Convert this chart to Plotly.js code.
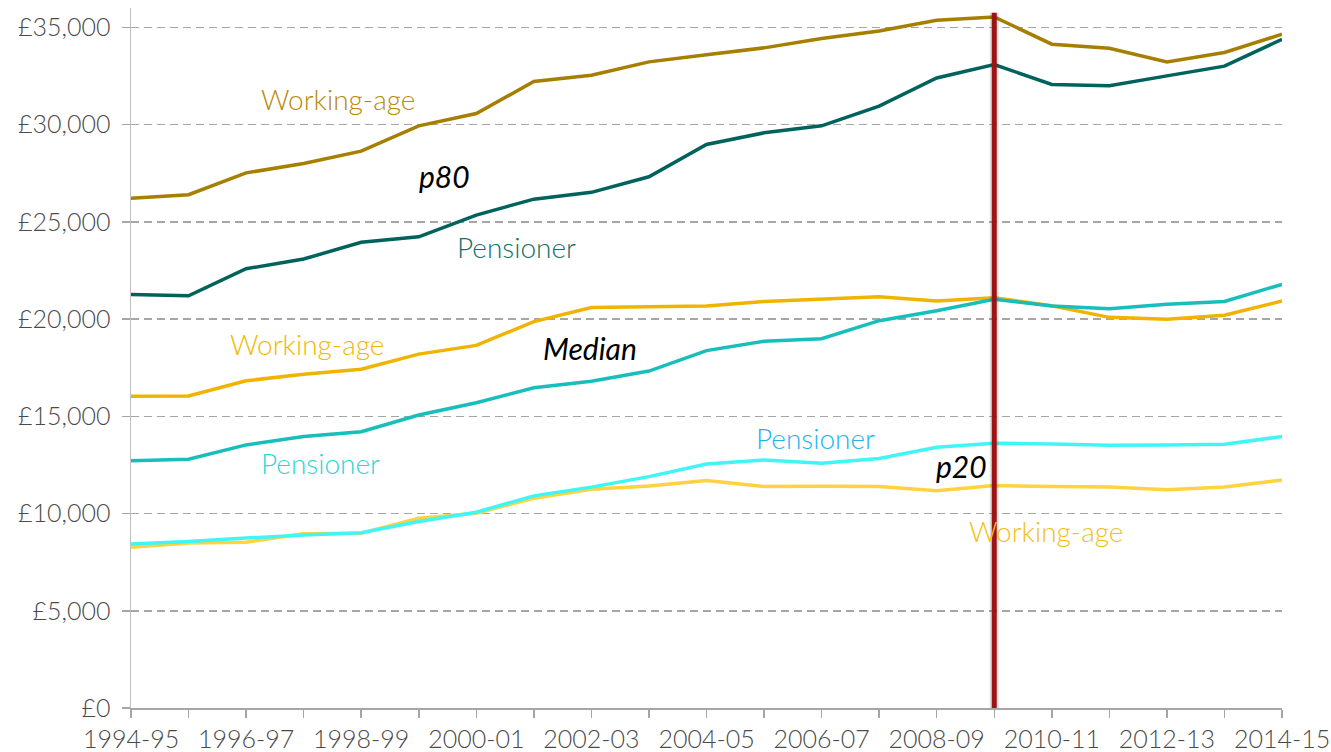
<!DOCTYPE html>
<html>
<head>
<meta charset="utf-8">
<script src="https://cdn.plot.ly/plotly-3.0.1.min.js"></script>
<style>
  html, body { margin: 0; padding: 0; background: #ffffff; }
  #chart { width: 1331px; height: 752px; }
</style>
</head>
<body>
<div id="chart"></div>
<script>
const years = ['1994-95','1995-96','1996-97','1997-98','1998-99','1999-00','2000-01','2001-02','2002-03','2003-04',
  '2004-05','2005-06','2006-07','2007-08','2008-09','2009-10','2010-11','2011-12','2012-13','2013-14','2014-15'];

const workingP80 = [26220, 26400, 27520, 28000, 28640, 29940, 30570, 32220, 32540, 33230,
  33600, 33950, 34430, 34820, 35370, 35540, 34140, 33930, 33230, 33710, 34650];
const pensionerP80 = [21270, 21200, 22590, 23090, 23950, 24230, 25350, 26170, 26520, 27320,
  28980, 29580, 29940, 30950, 32400, 33090, 32070, 32000, 32510, 33010, 34390];
const workingMedian = [16030, 16050, 16830, 17160, 17420, 18200, 18650, 19870, 20600, 20620,
  20670, 20910, 21050, 21150, 20930, 21100, 20690, 20090, 19990, 20200, 20930];
const pensionerMedian = [12710, 12790, 13530, 13960, 14210, 15070, 15700, 16470, 16800, 17330,
  18380, 18860, 18990, 19920, 20430, 21020, 20670, 20530, 20760, 20910, 21790];
const workingP20 = [8270, 8480, 8530, 8960, 8990, 9760, 10020, 10790, 11250, 11420,
  11700, 11390, 11410, 11390, 11170, 11440, 11390, 11360, 11230, 11360, 11730];
const pensionerP20 = [8440, 8560, 8740, 8900, 9010, 9590, 10070, 10910, 11360, 11900,
  12550, 12760, 12590, 12830, 13410, 13620, 13580, 13510, 13530, 13570, 13960];

const tickLabels = years.map((y, i) => (i % 2 === 0 ? y : ''));
const markerYear = '2009-10';
const yTicks = [0, 5000, 10000, 15000, 20000, 25000, 30000, 35000];
const yTickText = ['£0', '£5,000', '£10,000', '£15,000', '£20,000', '£25,000', '£30,000', '£35,000'];

const FONT = 'Lato, "Open Sans", sans-serif';

function line(y, color, name) {
  return { x: years, y: y, type: 'scatter', mode: 'lines', name: name,
    line: { color: color, width: 3.5 }, hoverinfo: 'skip' };
}

const data = [
  line(workingP20, '#FFD23F', 'Working-age p20'),
  line(pensionerP20, '#40F5F5', 'Pensioner p20'),
  line(workingMedian, '#F0B400', 'Working-age median'),
  line(pensionerMedian, '#17BEBB', 'Pensioner median'),
  line(pensionerP80, '#00625C', 'Pensioner p80'),
  line(workingP80, '#A67F00', 'Working-age p80')
];

function ann(text, x, y, color, italic) {
  return { text: text, x: x, y: y, xref: 'x', yref: 'y', showarrow: false,
    font: { family: FONT, size: italic ? 30 : 28, color: color, weight: italic ? 400 : 300,
            style: italic ? 'italic' : 'normal' } };
}

const annotations = [
  ann('Working-age', 3.6, 31300, '#B8890A', false),
  ann('p80', 5.45, 27350, '#000000', true),
  ann('Pensioner', 6.7, 23700, '#137069', false),
  ann('Working-age', 3.06, 18720, '#F2B800', false),
  ann('Median', 7.98, 18500, '#000000', true),
  ann('Pensioner', 3.29, 12600, '#2ED6D6', false),
  ann('Pensioner', 11.89, 13900, '#1DB4EE', false),
  ann('p20', 14.43, 12450, '#000000', true),
  ann('Working-age', 15.9, 9120, '#F2BE1A', false)
];

const tickFont = { family: FONT, size: 25, color: '#4A4A4A', weight: 300 };

const layout = {
  width: 1331, height: 752,
  margin: { l: 131, r: 49, t: 8, b: 44 },
  paper_bgcolor: '#ffffff', plot_bgcolor: '#ffffff',
  showlegend: false,
  font: { family: FONT, size: 24, color: '#595959' },
  xaxis: {
    type: 'category', range: [0, 20],
    tickmode: 'array', tickvals: years, ticktext: tickLabels,
    ticks: 'outside', ticklen: 8, tickcolor: '#A6A6A6', tickwidth: 1.5,
    showline: true, linecolor: '#A6A6A6', linewidth: 1.5,
    showgrid: false, zeroline: false,
    tickfont: tickFont
  },
  yaxis: {
    range: [0, 36000],
    tickmode: 'array', tickvals: yTicks, ticktext: yTickText,
    ticks: 'outside', ticklen: 8, tickcolor: '#A6A6A6', tickwidth: 1.5,
    ticklabelstandoff: 6,
    showline: true, linecolor: '#BFBFBF', linewidth: 1.5,
    showgrid: true, gridcolor: '#A6A6A6', gridwidth: 1.5, griddash: '8px,5px',
    zeroline: false,
    tickfont: tickFont
  },
  shapes: [
    { type: 'line', xref: 'x', yref: 'y', x0: markerYear, x1: markerYear, y0: 0, y1: 35750,
      line: { color: 'rgba(0,0,0,0.12)', width: 9 }, layer: 'above' },
    { type: 'line', xref: 'x', yref: 'y', x0: markerYear, x1: markerYear, y0: 0, y1: 35750,
      line: { color: '#9C1414', width: 5 }, layer: 'above' }
  ],
  annotations: annotations
};

Plotly.newPlot('chart', data, layout, { displayModeBar: false, staticPlot: true });
</script>
</body>
</html>
